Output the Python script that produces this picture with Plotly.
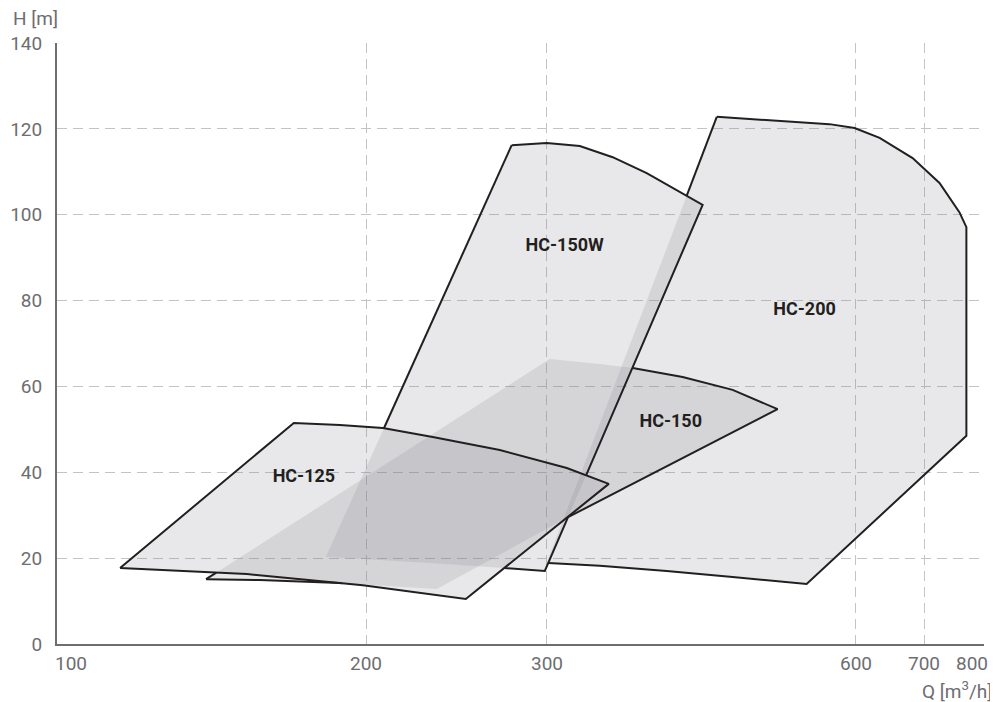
import math
import plotly.graph_objects as go

# ---------------- data (Q in m3/h, H in m) ----------------
hc200_q = [439.3, 505.8, 565.6, 598.4, 633.0, 681.6, 724.0, 757.0, 769.0, 769.0, 537.4, 455.2, 392.6, 337.9, 300.0]
hc200_h = [122.8, 121.8, 121.1, 120.2, 117.9, 113.2, 107.4, 100.6, 97.1, 48.5, 14.0, 15.6, 17.0, 18.2, 18.9]

hc150_q = [139.7, 302.0, 337.9, 363.8, 406.9, 455.2, 503.5, 313.8, 234.4, 188.6, 157.6]
hc150_h = [15.1, 66.4, 65.2, 64.3, 62.2, 59.2, 54.7, 29.4, 12.8, 14.2, 14.9]

hc150w_q = [277.3, 300.0, 323.1, 347.8, 375.4, 404.3, 425.6, 298.7, 241.4, 182.8]
hc150w_h = [116.2, 116.7, 116.0, 113.4, 109.7, 105.3, 102.3, 17.0, 18.6, 20.3]

hc125_q = [115.2, 170.1, 188.6, 207.7, 232.3, 270.0, 313.8, 344.8, 250.2, 222.1, 198.6, 153.1]
hc125_h = [17.7, 51.5, 51.0, 50.3, 48.2, 45.2, 41.0, 37.3, 10.5, 12.1, 13.7, 16.3]

label_text = ["HC-200", "HC-150W", "HC-150", "HC-125"]
label_q = [534.9, 312.3, 396.2, 174.0]
label_h = [77.8, 92.7, 51.7, 38.7]

x_ticks = [100, 200, 300, 600, 700, 800]
x_grid = [200, 300, 600, 700, 800]
y_ticks = [0, 20, 40, 60, 80, 100, 120, 140]

# drawing order: back to front
shapes = [(hc200_q, hc200_h), (hc150_q, hc150_h), (hc150w_q, hc150w_h), (hc125_q, hc125_h)]

FILL = "rgba(128,130,136,0.18)"
LINE = "#231f20"
AXIS = "#6d6e71"
GRID = "#c4c4c6"
FONT = "Roboto"


# ---------------- geometry helpers (in log10 Q / H space) ----------------
def to_uv(qs, hs):
    return [(math.log10(q), h) for q, h in zip(qs, hs)]


def inside(pt, poly):
    x, y = pt
    c = False
    n = len(poly)
    for i in range(n):
        x1, y1 = poly[i]
        x2, y2 = poly[(i + 1) % n]
        if (y1 > y) != (y2 > y):
            xi = x1 + (y - y1) * (x2 - x1) / (y2 - y1)
            if xi > x:
                c = not c
    return c


def seg_params(a, b, poly):
    ts = []
    ax, ay = a
    dx, dy = b[0] - ax, b[1] - ay
    n = len(poly)
    for i in range(n):
        cx, cy = poly[i]
        ex, ey = poly[(i + 1) % n]
        fx, fy = ex - cx, ey - cy
        den = dx * fy - dy * fx
        if abs(den) < 1e-12:
            continue
        t = ((cx - ax) * fy - (cy - ay) * fx) / den
        s = ((cx - ax) * dy - (cy - ay) * dx) / den
        if 0 < t < 1 and 0 <= s <= 1:
            ts.append(t)
    return ts


def visible_outline(poly, fronts):
    xs, ys = [], []
    n = len(poly)
    for i in range(n):
        a = poly[i]
        b = poly[(i + 1) % n]
        ts = [0.0, 1.0]
        for fp in fronts:
            ts += seg_params(a, b, fp)
        ts.sort()
        for t0, t1 in zip(ts[:-1], ts[1:]):
            if t1 - t0 < 1e-9:
                continue
            tm = 0.5 * (t0 + t1)
            m = (a[0] + (b[0] - a[0]) * tm, a[1] + (b[1] - a[1]) * tm)
            if any(inside(m, fp) for fp in fronts):
                continue
            p0 = (a[0] + (b[0] - a[0]) * t0, a[1] + (b[1] - a[1]) * t0)
            p1 = (a[0] + (b[0] - a[0]) * t1, a[1] + (b[1] - a[1]) * t1)
            if xs and xs[-1] is not None and abs(xs[-1] - p0[0]) < 1e-9 and abs(ys[-1] - p0[1]) < 1e-9:
                xs.append(p1[0]); ys.append(p1[1])
            else:
                if xs:
                    xs.append(None); ys.append(None)
                xs += [p0[0], p1[0]]; ys += [p0[1], p1[1]]
    qx = [None if u is None else 10 ** u for u in xs]
    return qx, ys


fig = go.Figure()

# fills
for q, h in shapes:
    fig.add_trace(go.Scatter(
        x=q + [q[0]], y=h + [h[0]], mode="lines", fill="toself",
        fillcolor=FILL, line=dict(width=0, color="rgba(0,0,0,0)"),
        hoverinfo="skip", showlegend=False))

# outlines, hidden where covered by shapes in front
polys = [to_uv(q, h) for q, h in shapes]
for i, poly in enumerate(polys):
    ox, oy = visible_outline(poly, polys[i + 1:])
    fig.add_trace(go.Scatter(
        x=ox, y=oy, mode="lines", connectgaps=False,
        line=dict(color=LINE, width=2),
        hoverinfo="skip", showlegend=False))

# labels
fig.add_trace(go.Scatter(
    x=label_q, y=label_h, mode="text", text=label_text,
    textfont=dict(family=FONT, size=18, color=LINE, weight="bold"),
    hoverinfo="skip", showlegend=False))

annotations = []
for v in x_ticks:
    anchor = "center"
    shift = 0
    if v == x_ticks[0]:
        anchor = "left"
        shift = -4
    elif v == x_ticks[-1]:
        anchor = "right"
        shift = 6
    annotations.append(dict(
        x=math.log10(v), xref="x", y=0, yref="paper", text=str(v),
        showarrow=False, xanchor=anchor, yanchor="middle", xshift=shift, yshift=-19,
        font=dict(family=FONT, size=19, color=AXIS)))
annotations.append(dict(
    x=1, xref="paper", y=0, yref="paper", text="Q [m<sup>3</sup>/h]",
    showarrow=False, xanchor="right", yanchor="middle", xshift=10, yshift=-46,
    font=dict(family=FONT, size=19, color=AXIS)))
annotations.append(dict(
    x=0, xref="paper", y=1, yref="paper", text="H [m]",
    showarrow=False, xanchor="left", yanchor="middle", xshift=-46, yshift=25,
    font=dict(family=FONT, size=19, color=AXIS)))

# the page places the figure 8px from the top-left corner (body margin),
# so the figure is sized and margined to put the plot area where the reference has it
fig.update_layout(
    width=990, height=694,
    margin=dict(l=49, r=14, t=35, b=58, autoexpand=False),
    paper_bgcolor="white", plot_bgcolor="white",
    showlegend=False,
    annotations=annotations,
    xaxis=dict(
        type="log", range=[math.log10(x_ticks[0]), math.log10(x_ticks[-1])],
        tickvals=x_grid, showticklabels=False, ticks="",
        showgrid=True, gridcolor=GRID, gridwidth=1, griddash="10px,6px",
        showline=True, linecolor=AXIS, linewidth=2, zeroline=False,
        fixedrange=True),
    yaxis=dict(
        range=[y_ticks[0], y_ticks[-1]], tickvals=y_ticks,
        tickfont=dict(family=FONT, size=19, color=AXIS), ticks="",
        ticklabelstandoff=9,
        showgrid=True, gridcolor=GRID, gridwidth=1, griddash="10px,6px",
        showline=True, linecolor=AXIS, linewidth=2, zeroline=False,
        fixedrange=True),
)

fig.write_html("out.html")
